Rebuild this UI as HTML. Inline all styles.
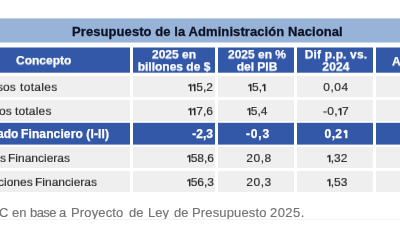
<!DOCTYPE html>
<html><head><meta charset="utf-8">
<style>
html,body{margin:0;padding:0;}
body{width:400px;height:239px;overflow:hidden;background:#fff;position:relative;font-family:"Liberation Sans",sans-serif;}
div{position:absolute;white-space:nowrap;}
.x{will-change:transform;}
svg.one{display:inline-block;width:3.6px;height:8.3px;margin-left:0.3px;margin-right:0.3px;vertical-align:baseline;overflow:visible;}
.tb svg.one{width:4.2px;margin-left:0.5px;}
.tb svg.one path{stroke-width:2.1px;transform:translateX(0.3px);}
.title{left:0;top:18px;width:400px;height:25px;background:linear-gradient(#c1d1e8 0,#c1d1e8 1px,#97b3d8 1px,#97b3d8 24px,#cbd9ec 24px);}
.tt{left:72px;top:24px;font-size:13px;font-weight:bold;color:#0e1428;line-height:16px;letter-spacing:0.08px;-webkit-text-stroke:0.3px #0e1428;}
.bl{background:#3358a8;}
.gr{background:#efefef;}
.ht{color:#fff;-webkit-text-stroke:0.25px #fff;font-weight:bold;font-size:12px;line-height:13.3px;text-align:center;transform:scale(1,0.94);transform-origin:50% 0;}
.t{color:#2e2e2e;-webkit-text-stroke:0.2px #2e2e2e;font-size:12px;line-height:14px;transform:scale(1,0.9);transform-origin:0 11px;}
.tb{color:#fff;-webkit-text-stroke:0.25px #fff;font-weight:bold;font-size:12px;line-height:14px;}
.r{text-align:right;}
.c{text-align:center;}
.ft{top:205px;font-size:13px;color:#737373;-webkit-text-stroke:0.15px #737373;line-height:16px;}
.fl{left:0;top:219px;width:400px;height:1px;background:#f3f3f3;}
</style></head><body>
<div class="title"></div>
<div class="tt x">Presupuesto de la Administración Nacional</div>
<div class="bl" style="left:0px;top:48px;width:130px;height:24px"></div><div style="left:0px;top:47px;width:130px;height:1px;background:#99acd4"></div><div style="left:0px;top:72px;width:130px;height:1px;background:#6f89c2"></div><div class="bl" style="left:133px;top:48px;width:82px;height:24px"></div><div style="left:133px;top:47px;width:82px;height:1px;background:#99acd4"></div><div style="left:133px;top:72px;width:82px;height:1px;background:#6f89c2"></div><div class="bl" style="left:218px;top:48px;width:76px;height:24px"></div><div style="left:218px;top:47px;width:76px;height:1px;background:#99acd4"></div><div style="left:218px;top:72px;width:76px;height:1px;background:#6f89c2"></div><div class="bl" style="left:297px;top:48px;width:76px;height:24px"></div><div style="left:297px;top:47px;width:76px;height:1px;background:#99acd4"></div><div style="left:297px;top:72px;width:76px;height:1px;background:#6f89c2"></div><div class="bl" style="left:376px;top:48px;width:24px;height:24px"></div><div style="left:376px;top:47px;width:24px;height:1px;background:#99acd4"></div><div style="left:376px;top:72px;width:24px;height:1px;background:#6f89c2"></div>
<div class="gr" style="left:0px;top:76px;width:130px;height:21px"></div><div class="gr" style="left:133px;top:76px;width:82px;height:21px"></div><div class="gr" style="left:218px;top:76px;width:76px;height:21px"></div><div class="gr" style="left:297px;top:76px;width:76px;height:21px"></div><div class="gr" style="left:376px;top:76px;width:24px;height:21px"></div>
<div class="gr" style="left:0px;top:100px;width:130px;height:21px"></div><div class="gr" style="left:133px;top:100px;width:82px;height:21px"></div><div class="gr" style="left:218px;top:100px;width:76px;height:21px"></div><div class="gr" style="left:297px;top:100px;width:76px;height:21px"></div><div class="gr" style="left:376px;top:100px;width:24px;height:21px"></div>
<div class="bl" style="left:0px;top:123px;width:130px;height:21px"></div><div style="left:0px;top:122px;width:130px;height:1px;background:#d6dded"></div><div style="left:0px;top:144px;width:130px;height:1px;background:#859bcb"></div><div class="bl" style="left:133px;top:123px;width:82px;height:21px"></div><div style="left:133px;top:122px;width:82px;height:1px;background:#d6dded"></div><div style="left:133px;top:144px;width:82px;height:1px;background:#859bcb"></div><div class="bl" style="left:218px;top:123px;width:76px;height:21px"></div><div style="left:218px;top:122px;width:76px;height:1px;background:#d6dded"></div><div style="left:218px;top:144px;width:76px;height:1px;background:#859bcb"></div><div class="bl" style="left:297px;top:123px;width:76px;height:21px"></div><div style="left:297px;top:122px;width:76px;height:1px;background:#d6dded"></div><div style="left:297px;top:144px;width:76px;height:1px;background:#859bcb"></div><div class="bl" style="left:376px;top:123px;width:24px;height:21px"></div><div style="left:376px;top:122px;width:24px;height:1px;background:#d6dded"></div><div style="left:376px;top:144px;width:24px;height:1px;background:#859bcb"></div>
<div class="gr" style="left:0px;top:147px;width:130px;height:21px"></div><div class="gr" style="left:133px;top:147px;width:82px;height:21px"></div><div class="gr" style="left:218px;top:147px;width:76px;height:21px"></div><div class="gr" style="left:297px;top:147px;width:76px;height:21px"></div><div class="gr" style="left:376px;top:147px;width:24px;height:21px"></div>
<div class="gr" style="left:0px;top:171px;width:130px;height:21px"></div><div class="gr" style="left:133px;top:171px;width:82px;height:21px"></div><div class="gr" style="left:218px;top:171px;width:76px;height:21px"></div><div class="gr" style="left:297px;top:171px;width:76px;height:21px"></div><div class="gr" style="left:376px;top:171px;width:24px;height:21px"></div>
<div class="ht x" style="left:16px;top:54.8px;">Concepto</div>
<div class="ht x" style="left:133px;width:82px;top:49px;">2025 en<br>billones de $</div>
<div class="ht x" style="left:219.2px;width:76px;top:49px;">2025 en %<br>del PIB</div>
<div class="ht x" style="left:298px;width:76px;top:49px;letter-spacing:0.15px">Dif p.p. vs.<br>2024</div>
<div class="ht x" style="left:392px;top:55.5px;">A</div>
<div class="t x" style="left:-3px;top:80px;letter-spacing:0px">sos</div>
<div class="t x" style="left:20px;top:80px;letter-spacing:0.33px">totales</div>
<div class="t r x" style="left:133px;width:80px;top:80px;letter-spacing:0px"><svg class="one" viewBox="0 0 3.6 8.3"><path d="M2.75 0.2V8.3M2.9 0.4L0.3 2.3" stroke="currentColor" stroke-width="1.55" fill="none"/></svg><svg class="one" viewBox="0 0 3.6 8.3"><path d="M2.75 0.2V8.3M2.9 0.4L0.3 2.3" stroke="currentColor" stroke-width="1.55" fill="none"/></svg>5,2</div>
<div class="t c x" style="left:219.0px;width:76px;top:80px;letter-spacing:0px"><svg class="one" viewBox="0 0 3.6 8.3"><path d="M2.75 0.2V8.3M2.9 0.4L0.3 2.3" stroke="currentColor" stroke-width="1.55" fill="none"/></svg>5,<svg class="one" viewBox="0 0 3.6 8.3"><path d="M2.75 0.2V8.3M2.9 0.4L0.3 2.3" stroke="currentColor" stroke-width="1.55" fill="none"/></svg></div>
<div class="t c x" style="left:298.25px;width:76px;top:80px;letter-spacing:0.5px">0,04</div>
<div class="t x" style="left:-1px;top:104px;letter-spacing:0px">os</div>
<div class="t x" style="left:15px;top:104px;letter-spacing:0.17px">totales</div>
<div class="t r x" style="left:133px;width:80px;top:104px;letter-spacing:0px"><svg class="one" viewBox="0 0 3.6 8.3"><path d="M2.75 0.2V8.3M2.9 0.4L0.3 2.3" stroke="currentColor" stroke-width="1.55" fill="none"/></svg><svg class="one" viewBox="0 0 3.6 8.3"><path d="M2.75 0.2V8.3M2.9 0.4L0.3 2.3" stroke="currentColor" stroke-width="1.55" fill="none"/></svg>7,6</div>
<div class="t c x" style="left:219.4px;width:76px;top:104px;letter-spacing:0px"><svg class="one" viewBox="0 0 3.6 8.3"><path d="M2.75 0.2V8.3M2.9 0.4L0.3 2.3" stroke="currentColor" stroke-width="1.55" fill="none"/></svg>5,4</div>
<div class="t c x" style="left:298.15px;width:76px;top:104px;letter-spacing:0.3px">-0,<svg class="one" viewBox="0 0 3.6 8.3"><path d="M2.75 0.2V8.3M2.9 0.4L0.3 2.3" stroke="currentColor" stroke-width="1.55" fill="none"/></svg>7</div>
<div class="tb x" style="left:-3px;top:127px;letter-spacing:0px">ado</div>
<div class="tb x" style="left:21px;top:127px;letter-spacing:0.12px">Financiero (I-II)</div>
<div class="tb r x" style="left:133px;width:80px;top:127px;letter-spacing:0px">-2,3</div>
<div class="tb c x" style="left:220.0px;width:76px;top:127px;letter-spacing:0.8px">-0,3</div>
<div class="tb c x" style="left:298.0px;width:76px;top:127px;letter-spacing:0.4px">0,2<svg class="one" viewBox="0 0 3.6 8.3"><path d="M2.75 0.2V8.3M2.9 0.4L0.3 2.3" stroke="currentColor" stroke-width="1.55" fill="none"/></svg></div>
<div class="t x" style="left:0px;top:151px;letter-spacing:0px">s</div>
<div class="t x" style="left:8px;top:151px;letter-spacing:0px">Financieras</div>
<div class="t r x" style="left:133px;width:81px;top:151px;letter-spacing:0px"><svg class="one" viewBox="0 0 3.6 8.3"><path d="M2.75 0.2V8.3M2.9 0.4L0.3 2.3" stroke="currentColor" stroke-width="1.55" fill="none"/></svg>58,6</div>
<div class="t c x" style="left:221.25px;width:76px;top:151px;letter-spacing:0.5px">20,8</div>
<div class="t c x" style="left:298.5px;width:76px;top:151px;letter-spacing:0px"><svg class="one" viewBox="0 0 3.6 8.3"><path d="M2.75 0.2V8.3M2.9 0.4L0.3 2.3" stroke="currentColor" stroke-width="1.55" fill="none"/></svg>,32</div>
<div class="t x" style="left:-2px;top:175px;letter-spacing:0px">ciones</div>
<div class="t x" style="left:35px;top:175px;letter-spacing:0px">Financieras</div>
<div class="t r x" style="left:133px;width:81px;top:175px;letter-spacing:0px"><svg class="one" viewBox="0 0 3.6 8.3"><path d="M2.75 0.2V8.3M2.9 0.4L0.3 2.3" stroke="currentColor" stroke-width="1.55" fill="none"/></svg>56,3</div>
<div class="t c x" style="left:221.25px;width:76px;top:175px;letter-spacing:0.5px">20,3</div>
<div class="t c x" style="left:298.5px;width:76px;top:175px;letter-spacing:0px"><svg class="one" viewBox="0 0 3.6 8.3"><path d="M2.75 0.2V8.3M2.9 0.4L0.3 2.3" stroke="currentColor" stroke-width="1.55" fill="none"/></svg>,53</div>
<div class="ft x" style="left:-1.4px;letter-spacing:0px">C</div>
<div class="ft x" style="left:12.3px;letter-spacing:0px">en</div>
<div class="ft x" style="left:30.3px;letter-spacing:-0.6px">base</div>
<div class="ft x" style="left:59.3px;letter-spacing:0px">a</div>
<div class="ft x" style="left:70.5px;letter-spacing:0.15px">Proyecto</div>
<div class="ft x" style="left:128.75px;letter-spacing:0px">de</div>
<div class="ft x" style="left:147.75px;letter-spacing:0px">Ley</div>
<div class="ft x" style="left:173.75px;letter-spacing:0px">de</div>
<div class="ft x" style="left:192px;letter-spacing:0.15px">Presupuesto</div>
<div class="ft x" style="left:270px;letter-spacing:0.45px">2025.</div>
<div class="fl"></div>
</body></html>
